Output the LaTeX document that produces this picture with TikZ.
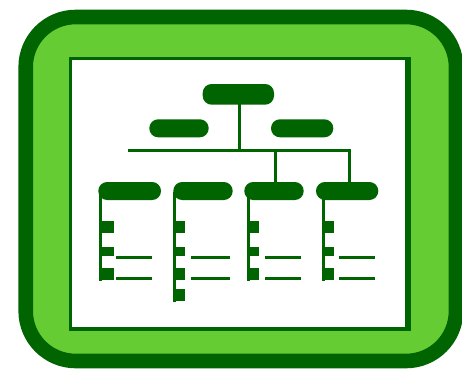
\documentclass[tikz,border=0pt]{standalone}
\definecolor{dk}{HTML}{006400}
\definecolor{lt}{HTML}{66CC33}
\tikzset{
  pill/.style={fill=dk,rounded corners=8.9pt,inner sep=0pt,outer sep=0pt},
  tick/.style={fill=dk,inner sep=0pt,outer sep=0pt},
  conn/.style={draw=dk,line width=3pt,line cap=butt},
}
\newcommand{\boxat}[6]{\node[#1,minimum width={(#5-#3)*1pt},minimum height={(#6-#4)*1pt}] (#2) at ({(#3+#5)/2},{(#4+#6)/2}) {};}
\begin{document}
\begin{tikzpicture}[x=1pt,y=-1pt]
\useasboundingbox (0,0) rectangle (462,369);
% frame
\draw[draw=dk,fill=lt,line width=14.6pt,rounded corners=50pt] (25.7,17) rectangle (456,361);
\fill[dk] (69,57.3) rectangle (411,330.7);
\fill[white] (71.7,59.8) rectangle (405.3,327.4);
% pills
\boxat{pill}{top}{202.7}{84}{274}{104.7}
\boxat{pill}{mgrl}{149.3}{119.3}{208.7}{137.3}
\boxat{pill}{mgrr}{271}{119.3}{333.3}{137.3}
\boxat{pill}{ca}{98.3}{182}{161}{200}
\boxat{pill}{cb}{173.3}{182}{232.7}{200}
\boxat{pill}{cc}{244.3}{182}{303.7}{200}
\boxat{pill}{cd}{316}{182}{378.3}{200}
% bus
\coordinate (busl) at (128.3,150.8);
\coordinate (busr) at (351,150.8);
\coordinate (bust) at (239.3,152.3);
\coordinate (topb) at (239.3,104);
\coordinate (ctop) at (275.3,150);
\coordinate (ctopb) at (275.3,183);
\coordinate (dtop) at (349.4,149.4);
\coordinate (dtopb) at (349.4,183);
\draw[conn] (busl) -- (busr);
\draw[conn] (topb) -- (bust);
\draw[conn] (ctop) -- (ctopb);
\draw[conn] (dtop) -- (dtopb);
% rails
\coordinate (ra1) at (100.5,192);\coordinate (ra2) at (100.5,280.7);
\coordinate (rb1) at (174.5,192);\coordinate (rb2) at (174.5,302);
\coordinate (rc1) at (248.5,192);\coordinate (rc2) at (248.5,280.7);
\coordinate (rd1) at (323.5,192);\coordinate (rd2) at (323.5,280.7);
\draw[conn] (ra1) -- (ra2);
\draw[conn] (rb1) -- (rb2);
\draw[conn] (rc1) -- (rc2);
\draw[conn] (rd1) -- (rd2);
% ticks
\boxat{tick}{a1}{101}{221}{114}{233}
\boxat{tick}{a2}{101}{247}{114}{256}
\boxat{tick}{a3}{101}{268}{114}{280}
\boxat{tick}{b1}{175}{221}{185}{233}
\boxat{tick}{b2}{175}{247}{185}{256}
\boxat{tick}{b3}{175}{268}{185}{280}
\boxat{tick}{b4}{175}{289}{185}{301}
\boxat{tick}{c1}{249}{221}{259}{233}
\boxat{tick}{c2}{249}{247}{259}{256}
\boxat{tick}{c3}{249}{268}{259}{280}
\boxat{tick}{d1}{324}{221}{334}{233}
\boxat{tick}{d2}{324}{247}{334}{256}
\boxat{tick}{d3}{324}{268}{334}{280}
% text lines
\boxat{tick}{la1}{116}{256}{152}{259}
\boxat{tick}{la2}{116}{277}{152}{280}
\boxat{tick}{lb1}{191}{256}{230}{259}
\boxat{tick}{lb2}{191}{277}{230}{280}
\boxat{tick}{lc1}{265}{256}{301}{259}
\boxat{tick}{lc2}{265}{277}{301}{280}
\boxat{tick}{ld1}{339}{256}{375}{259}
\boxat{tick}{ld2}{339}{277}{375}{280}
\end{tikzpicture}
\end{document}
